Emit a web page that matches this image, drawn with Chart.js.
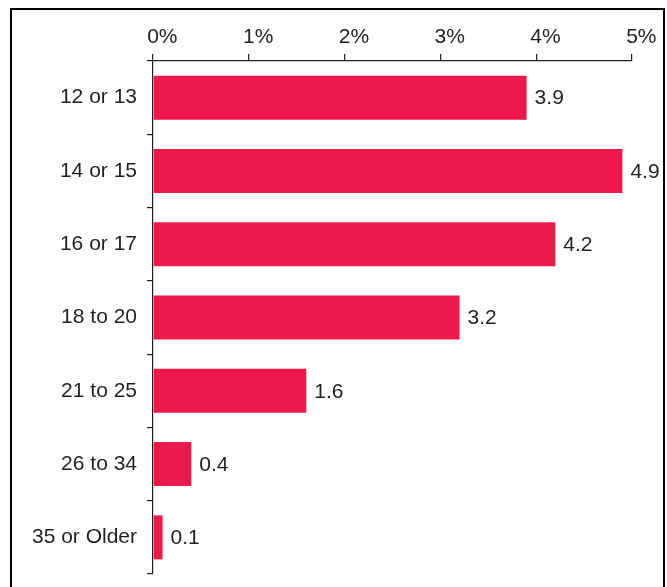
<!DOCTYPE html>
<html>
<head>
<meta charset="utf-8">
<title>Age groups</title>
<script src="https://cdn.jsdelivr.net/npm/chart.js@4.4.1/dist/chart.umd.min.js"></script>
<style>
  html, body { margin: 0; padding: 0; background: #fff; }
  #wrap { width: 667px; height: 587px; position: relative; }
</style>
</head>
<body>
<div id="wrap"><canvas id="ages"></canvas></div>
<script>
const ageGroups = ['12 or 13', '14 or 15', '16 or 17', '18 to 20', '21 to 25', '26 to 34', '35 or Older'];
const percentValues = [3.9, 4.9, 4.2, 3.2, 1.6, 0.4, 0.1];
const percentTicks = [0, 1, 2, 3, 4, 5];

const INK = '#231f20';
const BAR = '#ee184b';
const FONT = '"Liberation Sans", Arial, Helvetica, sans-serif';

// outer box: top edge and both sides, open at the bottom
const framePlugin = {
  id: 'frame',
  beforeDraw(chart) {
    const ctx = chart.ctx;
    ctx.save();
    ctx.strokeStyle = '#000';
    ctx.lineWidth = 2;
    ctx.beginPath();
    ctx.moveTo(11, 600);
    ctx.lineTo(11, 9);
    ctx.lineTo(664, 9);
    ctx.lineTo(664, 600);
    ctx.stroke();
    ctx.restore();
  }
};

// percent labels on top: the number sits centred on its tick, the % hangs right
const topTicksPlugin = {
  id: 'topTicks',
  afterDraw(chart) {
    const ctx = chart.ctx;
    const x = chart.scales.x;
    ctx.save();
    ctx.font = '21px ' + FONT;
    ctx.fillStyle = INK;
    ctx.textAlign = 'left';
    ctx.textBaseline = 'alphabetic';
    percentTicks.forEach(v => {
      const num = String(v);
      const w = ctx.measureText(num).width;
      ctx.fillText(num + '%', x.getPixelForValue(v) - w / 2, x.bottom - 18);
    });
    ctx.restore();
  }
};

// value printed just past the end of each bar
const valueLabels = {
  id: 'valueLabels',
  afterDatasetsDraw(chart) {
    const ctx = chart.ctx;
    const meta = chart.getDatasetMeta(0);
    ctx.save();
    ctx.font = '21px ' + FONT;
    ctx.fillStyle = INK;
    ctx.textAlign = 'left';
    ctx.textBaseline = 'middle';
    meta.data.forEach((bar, i) => {
      ctx.fillText(percentValues[i].toFixed(1), bar.x + 8, bar.y + 1);
    });
    ctx.restore();
  }
};

new Chart(document.getElementById('ages'), {
  type: 'bar',
  data: {
    labels: ageGroups,
    datasets: [{
      data: percentValues,
      backgroundColor: BAR,
      borderWidth: 0,
      categoryPercentage: 1,
      barPercentage: 0.6
    }]
  },
  options: {
    indexAxis: 'y',
    responsive: true,
    maintainAspectRatio: false,
    animation: false,
    layout: { padding: { left: 0, right: 35, top: 0, bottom: 13 } },
    plugins: {
      legend: { display: false },
      tooltip: { enabled: false }
    },
    scales: {
      x: {
        position: 'top',
        min: 0,
        max: 5,
        afterBuildTicks(scale) {
          scale.ticks = percentTicks.map(v => ({ value: v }));
        },
        afterFit(scale) {
          scale.height = 61;
          scale.paddingLeft = 0;
          scale.paddingRight = 0;
        },
        ticks: { display: false },
        grid: {
          drawOnChartArea: false,
          drawTicks: true,
          tickLength: 7,
          color: INK,
          lineWidth: 1.2
        },
        border: { display: true, color: INK, width: 1.2 }
      },
      y: {
        afterFit(scale) {
          scale.width = 153;
          scale.paddingTop = 0;
          scale.paddingBottom = 0;
        },
        ticks: {
          color: INK,
          font: { family: FONT, size: 21 },
          padding: 10
        },
        grid: {
          offset: true,
          drawOnChartArea: false,
          drawTicks: true,
          tickLength: 6,
          color: INK,
          lineWidth: 1.2
        },
        border: { display: true, color: INK, width: 1.2 }
      }
    }
  },
  plugins: [framePlugin, topTicksPlugin, valueLabels]
});
</script>
</body>
</html>
